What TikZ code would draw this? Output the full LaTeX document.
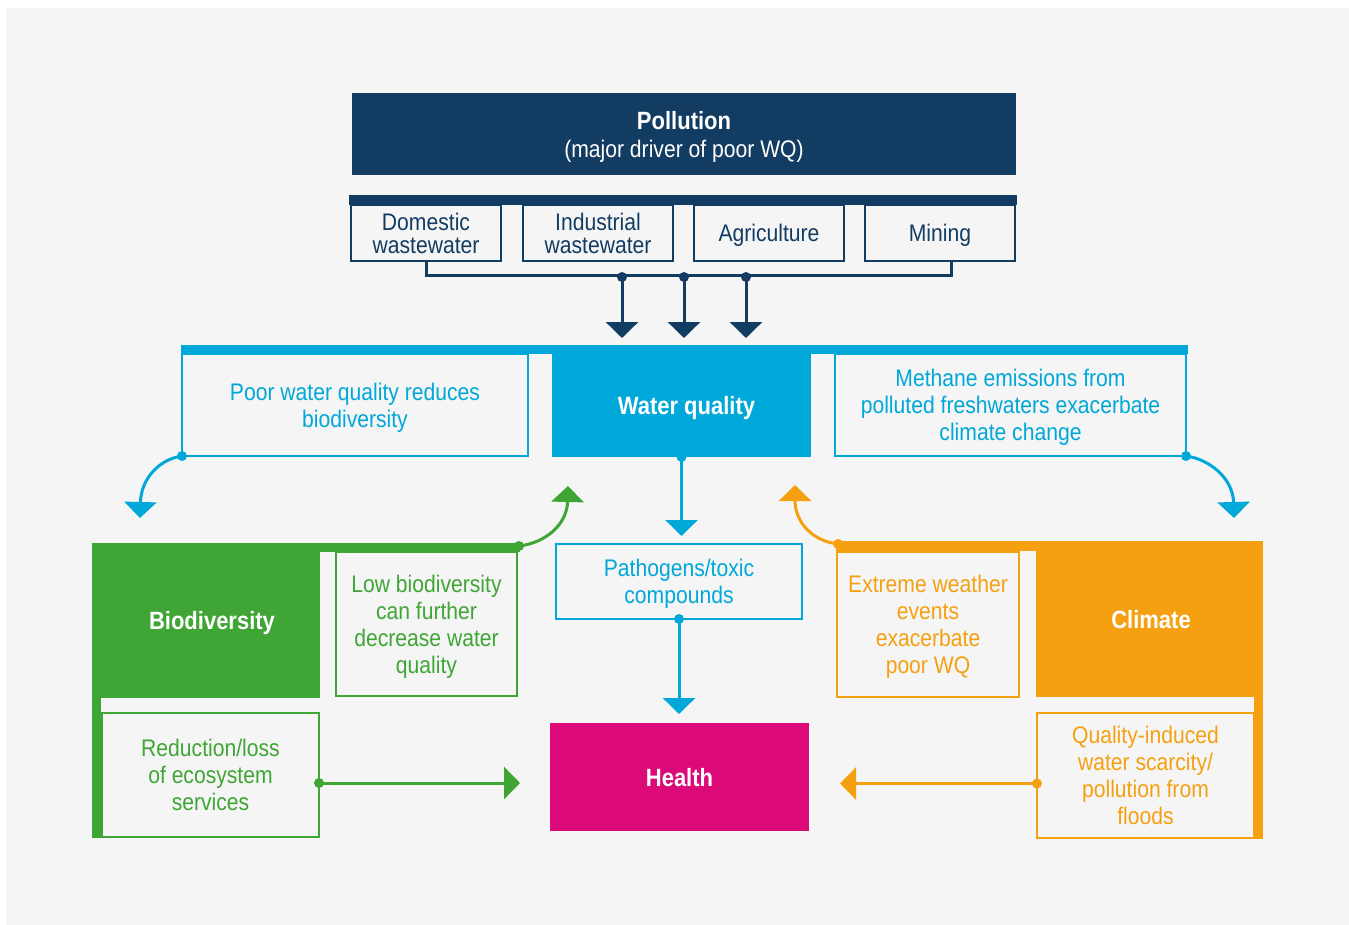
\documentclass[tikz,border=0pt]{standalone}
\usepackage{fontspec}
\setmainfont{Liberation Sans}[FakeStretch=0.88]
\usetikzlibrary{arrows.meta}
\definecolor{cnavy}{HTML}{133C63}
\definecolor{cblue}{HTML}{00A8D9}
\definecolor{cgreen}{HTML}{3FA535}
\definecolor{corange}{HTML}{F5A011}
\definecolor{cmag}{HTML}{DC0A78}
\definecolor{cbg}{HTML}{F5F5F5}
\begin{document}
\begin{tikzpicture}[x=1pt,y=-1pt,
  every node/.style={font=\fontsize{24}{27}\selectfont},
  fbox/.style={rectangle,inner sep=0pt,outer sep=0pt,anchor=north west,align=center,text depth=0pt},
  obox/.style={fbox,draw,line width=2pt},
  title/.style={font=\fontsize{25}{28}\selectfont\bfseries},
  conn/.style={line width=3pt},
  tipped/.style={-{Triangle[width=32pt,length=16pt]}},
  dot/.style={radius=5pt}]
\useasboundingbox (0,0) rectangle (1349,925);
\fill[white] (0,0) rectangle (1349,925);
\fill[cbg] (6,8) rectangle (1349,925);

% Pollution
\node[fbox, fill=cnavy, text=white, minimum width=664pt, minimum height=82pt] (poll) at (352,93)
  {{\fontsize{25}{28}\selectfont\bfseries Pollution}\\[1pt](major driver of poor WQ)};
\node[fbox, fill=cnavy, minimum width=668pt, minimum height=10pt] (srcbar) at (349,195) {};
\begin{scope}[every node/.style={obox, draw=cnavy, text=cnavy, minimum width=150pt, minimum height=56pt, font=\fontsize{24}{23}\selectfont}]
\node (dom) at (351,205) {Domestic\\wastewater};
\node (ind) at (523,205) {Industrial\\wastewater};
\node (agr) at (694,205) {Agriculture};
\node (min) at (865,205) {Mining};
\end{scope}
\coordinate (mdrop) at ([xshift=11pt]min.south);
\draw[conn, cnavy] (dom.south) -- ++(0,15) -| (mdrop);
\coordinate (b1) at (622,277);
\coordinate (b2) at (684,277);
\coordinate (b3) at (746,277);

% Water quality
\node[fbox, fill=cblue, minimum width=1007pt, minimum height=9pt] (wqbar) at (181,345) {};
\node[fbox, fill=cblue, text=white, minimum width=259pt, minimum height=103pt, title] (wq) at (552,354) {\hspace{10pt}Water quality};
\node[obox, draw=cblue, text=cblue, minimum width=346pt, minimum height=102pt] (poor) at (182,354)
  {Poor water quality reduces\\biodiversity};
\node[obox, draw=cblue, text=cblue, minimum width=351pt, minimum height=102pt] (meth) at (835,354)
  {Methane emissions from\\polluted freshwaters exacerbate\\climate change};

\foreach \b in {b1,b2,b3}{
  \fill[cnavy] (\b) circle[dot];
  \draw[conn, cnavy, tipped, shorten >=7pt] (\b) -- (\b |- wqbar.north);
}

% Pathogens and Health
\node[obox, draw=cblue, text=cblue, minimum width=246pt, minimum height=75pt] (path) at (556,544)
  {Pathogens/toxic\\compounds};
\node[fbox, fill=cmag, text=white, minimum width=259pt, minimum height=108pt, title] (health) at (550,723) {Health};
\fill[cblue] (wq.south) circle[dot];
\draw[conn, cblue, tipped, shorten >=8pt] (wq.south) -- (wq.south |- path.north);
\fill[cblue] (path.south) circle[dot];
\draw[conn, cblue, tipped, shorten >=9pt] (path.south) -- (path.south |- health.north);

% Biodiversity
\node[fbox, fill=cgreen, minimum width=428pt, minimum height=9pt] (gbar) at (92,543) {};
\node[fbox, fill=cgreen, minimum width=9pt, minimum height=295pt] (gvert) at (92,543) {};
\node[fbox, fill=cgreen, text=white, minimum width=228pt, minimum height=155pt, title] (bio) at (92,543) {\hspace{12pt}Biodiversity};
\node[obox, draw=cgreen, text=cgreen, minimum width=181pt, minimum height=144pt] (low) at (336,552)
  {Low biodiversity\\can further\\decrease water\\quality};
\node[obox, draw=cgreen, text=cgreen, minimum width=217pt, minimum height=124pt] (red) at (102,713)
  {Reduction/loss\\of ecosystem\\services};
\coordinate (ga) at ([yshift=-8pt]red.east);
\fill[cgreen] (ga) circle[dot];
\draw[conn, cgreen, tipped, shorten >=30pt] (ga) -- (health.west |- ga);

% Climate
\node[fbox, fill=corange, minimum width=427pt, minimum height=10pt] (obar) at (836,541) {};
\node[fbox, fill=corange, minimum width=9pt, minimum height=298pt] (overt) at (1254,541) {};
\node[fbox, fill=corange, text=white, minimum width=218pt, minimum height=156pt, title] (clim) at (1036,541) {\hspace{12pt}Climate};
\node[obox, draw=corange, text=corange, minimum width=182pt, minimum height=145pt] (ext) at (837,552)
  {Extreme weather\\events\\exacerbate\\poor WQ};
\node[obox, draw=corange, text=corange, minimum width=217pt, minimum height=125pt] (qual) at (1037,713)
  {Quality-induced\\water scarcity/\\pollution from\\floods};
\coordinate (oa) at ([yshift=-8pt]qual.west);
\fill[corange] (oa) circle[dot];
\draw[conn, corange, tipped, shorten >=31pt] (oa) -- (health.east |- oa);

% curved arrows
\coordinate (tl) at (140,518);
\coordinate (tr) at (1234,518);
\coordinate (tg) at (568,486);
\coordinate (to) at (795,485);
\coordinate (sg) at (519,546);
\coordinate (so) at (838,544);
\fill[cblue] (poor.south west) circle[dot];
\draw[conn, cblue, tipped] (poor.south west) .. controls (160,459) and (141,478) .. (tl);
\fill[cblue] (meth.south east) circle[dot];
\draw[conn, cblue, tipped] (meth.south east) .. controls (1209,459) and (1233,478) .. (tr);
\fill[cgreen] (sg) circle[dot];
\draw[conn, cgreen, tipped] (sg) .. controls (545,543) and (567,525) .. (tg);
\fill[corange] (so) circle[dot];
\draw[conn, corange, tipped] (so) .. controls (812,541) and (795,522) .. (to);
\end{tikzpicture}
\end{document}
